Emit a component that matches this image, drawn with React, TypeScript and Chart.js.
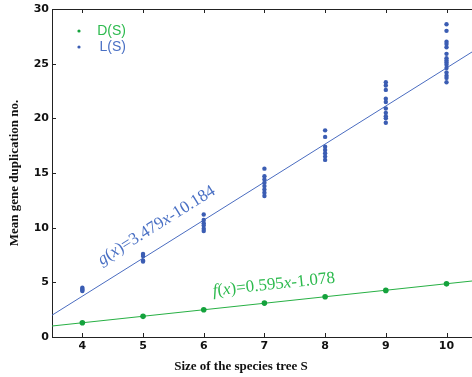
import React, { useEffect, useRef } from "react";
import { Chart, registerables } from "chart.js";

Chart.register(...registerables);

// ---- data ----
const speciesSizes = [4, 5, 6, 7, 8, 9, 10];
const lossValues: number[][] = [
  [4.5, 4.4, 4.3, 4.2],
  [7.6, 7.4, 7.0, 6.9],
  [11.2, 10.7, 10.4, 10.2, 9.9, 9.7],
  [15.4, 14.7, 14.4, 14.1, 13.8, 13.5, 13.2, 12.9],
  [18.9, 18.3, 17.4, 17.1, 16.8, 16.5, 16.2],
  [23.3, 23.0, 22.6, 21.8, 21.5, 20.9, 20.5, 20.2, 20.0, 19.6],
  [28.6, 28.0, 27.0, 26.8, 26.5, 25.9, 25.5, 25.3, 25.1, 24.9, 24.6, 24.2, 23.9, 23.7, 23.3],
];
const dupValues = [1.3, 1.89, 2.49, 3.1, 3.68, 4.26, 4.86];
const yTicks = [0, 5, 10, 15, 20, 25, 30];
const xLimits = [3.5, 10.42];
const fitL = { slope: 3.479, intercept: -10.184 };
const fitD = { slope: 0.595, intercept: -1.078 };
const legendLabels = ["D(S)", "L(S)"];
const gLabel: [string, boolean][] = [["g", true], ["(", false], ["x", true], [")=3.479", false], ["x", true], ["-10.184", false]];
const fLabel: [string, boolean][] = [["f", true], ["(", false], ["x", true], [")=0.595", false], ["x", true], ["-1.078", false]];

const GREEN_PT = "#14a23c";
const GREEN_LINE = "#27b044";
const GREEN_TEXT = "#2dba4e";
const BLUE_PT = "#3b5db3";
const BLUE_LINE = "#4a6cc0";
const BLUE_TEXT = "#4a70c4";

function fitPoints(f: { slope: number; intercept: number }) {
  return xLimits.map((x) => ({ x, y: f.slope * x + f.intercept }));
}

function drawRich(ctx: CanvasRenderingContext2D, segs: [string, boolean][], px: number, py: number, angle: number, color: string, size: number) {
  ctx.save();
  ctx.translate(px, py);
  ctx.rotate(angle);
  ctx.fillStyle = color;
  ctx.textBaseline = "alphabetic";
  ctx.textAlign = "left";
  let cx = 0;
  for (const [t, it] of segs) {
    ctx.font = `${it ? "italic " : ""}${size}px "Liberation Serif"`;
    ctx.fillText(t, cx, 0);
    cx += ctx.measureText(t).width;
  }
  ctx.restore();
}

const decor = {
  id: "decor",
  afterDraw(chart: any) {
    const { ctx, chartArea: a, scales } = chart;
    const x = scales.x;
    const y = scales.y;
    ctx.save();
    ctx.strokeStyle = "#222";
    ctx.lineWidth = 1;
    ctx.beginPath();
    ctx.moveTo(a.left, a.top + 0.5);
    ctx.lineTo(a.right, a.top + 0.5);
    for (const v of speciesSizes) {
      const px = Math.round(x.getPixelForValue(v)) + 0.5;
      ctx.moveTo(px, a.bottom);
      ctx.lineTo(px, a.bottom - 4);
      ctx.moveTo(px, a.top);
      ctx.lineTo(px, a.top + 4);
    }
    for (const v of yTicks) {
      const py = Math.round(y.getPixelForValue(v)) + 0.5;
      ctx.moveTo(a.left, py);
      ctx.lineTo(a.left + 4, py);
    }
    ctx.stroke();

    // axis titles
    ctx.fillStyle = "#111";
    ctx.font = 'bold 13px "Liberation Serif"';
    ctx.textAlign = "center";
    ctx.textBaseline = "middle";
    ctx.fillText("Size of the species tree S", a.left + 0.45 * (a.right - a.left), 367);
    ctx.save();
    ctx.translate(15, (a.top + a.bottom) / 2);
    ctx.rotate(-Math.PI / 2);
    ctx.fillText("Mean gene duplication no.", 0, 0);
    ctx.restore();

    // legend
    const legendColors = [GREEN_PT, BLUE_PT];
    const legendText = [GREEN_TEXT, BLUE_TEXT];
    legendLabels.forEach((lab, i) => {
      const ly = 31 + i * 16;
      ctx.fillStyle = legendColors[i];
      ctx.beginPath();
      ctx.arc(79, ly, 1.6, 0, Math.PI * 2);
      ctx.fill();
      ctx.fillStyle = legendText[i];
      ctx.font = '14px "Liberation Sans"';
      ctx.textAlign = "right";
      ctx.textBaseline = "middle";
      ctx.fillText(lab, 126, ly);
    });

    // fit annotations
    const place = (f: { slope: number; intercept: number }, x0: number, d: number) => {
      const p0x = x.getPixelForValue(x0);
      const p0y = y.getPixelForValue(f.slope * x0 + f.intercept);
      const p1x = x.getPixelForValue(x0 + 1);
      const p1y = y.getPixelForValue(f.slope * (x0 + 1) + f.intercept);
      const ang = Math.atan2(p1y - p0y, p1x - p0x);
      return { px: p0x + d * Math.sin(ang), py: p0y - d * Math.cos(ang), ang };
    };
    const g = place(fitL, 4.46, 16);
    drawRich(ctx, gLabel, g.px, g.py, g.ang, BLUE_TEXT, 17);
    const f = place(fitD, 6.18, 13);
    drawRich(ctx, fLabel, f.px, f.py, f.ang, GREEN_TEXT, 17);
    ctx.restore();
  },
};

export default function App() {
  const ref = useRef<HTMLCanvasElement>(null);
  useEffect(() => {
    document.body.style.margin = "0";
    const lossPts: { x: number; y: number }[] = [];
    speciesSizes.forEach((s, i) => lossValues[i].forEach((v) => lossPts.push({ x: s, y: v })));
    const dupPts = speciesSizes.map((s, i) => ({ x: s, y: dupValues[i] }));
    const tickFont = { family: '"DejaVu Sans"', size: 11, weight: "bold" as const };
    const chart = new Chart(ref.current!, {
      type: "scatter",
      data: {
        datasets: [
          { label: "D(S)", data: dupPts, pointRadius: 2.8, pointBackgroundColor: GREEN_PT, pointBorderWidth: 0, showLine: false },
          { label: "L(S)", data: lossPts, pointRadius: 2.2, pointBackgroundColor: BLUE_PT, pointBorderWidth: 0, showLine: false },
          { label: "f", data: fitPoints(fitD), showLine: true, pointRadius: 0, borderColor: GREEN_LINE, borderWidth: 1 },
          { label: "g", data: fitPoints(fitL), showLine: true, pointRadius: 0, borderColor: BLUE_LINE, borderWidth: 1 },
        ],
      },
      options: {
        animation: false,
        responsive: false,
        devicePixelRatio: 1,
        layout: { autoPadding: false, padding: { top: 9, right: 0, left: 0, bottom: 0 } },
        plugins: { legend: { display: false }, tooltip: { enabled: false } },
        scales: {
          x: {
            type: "linear",
            min: xLimits[0],
            max: xLimits[1],
            afterBuildTicks: (s: any) => {
              s.ticks = speciesSizes.map((v) => ({ value: v }));
            },
            afterFit: (s: any) => {
              s.height = 40;
              s.paddingLeft = 0;
              s.paddingRight = 0;
            },
            grid: { display: true, drawOnChartArea: false, drawTicks: false },
            border: { display: true, color: "#222", width: 1 },
            ticks: { font: tickFont, color: "#111", padding: 3, autoSkip: false, maxRotation: 0 },
          },
          y: {
            type: "linear",
            min: 0,
            max: 30,
            afterBuildTicks: (s: any) => {
              s.ticks = yTicks.map((v) => ({ value: v }));
            },
            afterFit: (s: any) => {
              s.width = 52;
              s.paddingTop = 0;
              s.paddingBottom = 0;
            },
            grid: { display: true, drawOnChartArea: false, drawTicks: false },
            border: { display: true, color: "#222", width: 1 },
            ticks: { font: tickFont, color: "#111", padding: 3 },
          },
        },
      },
      plugins: [decor],
    });
    return () => chart.destroy();
  }, []);
  return (
    <div style={{ width: 472, height: 377 }}>
      <canvas ref={ref} width={472} height={377} style={{ display: "block" }} />
    </div>
  );
}
